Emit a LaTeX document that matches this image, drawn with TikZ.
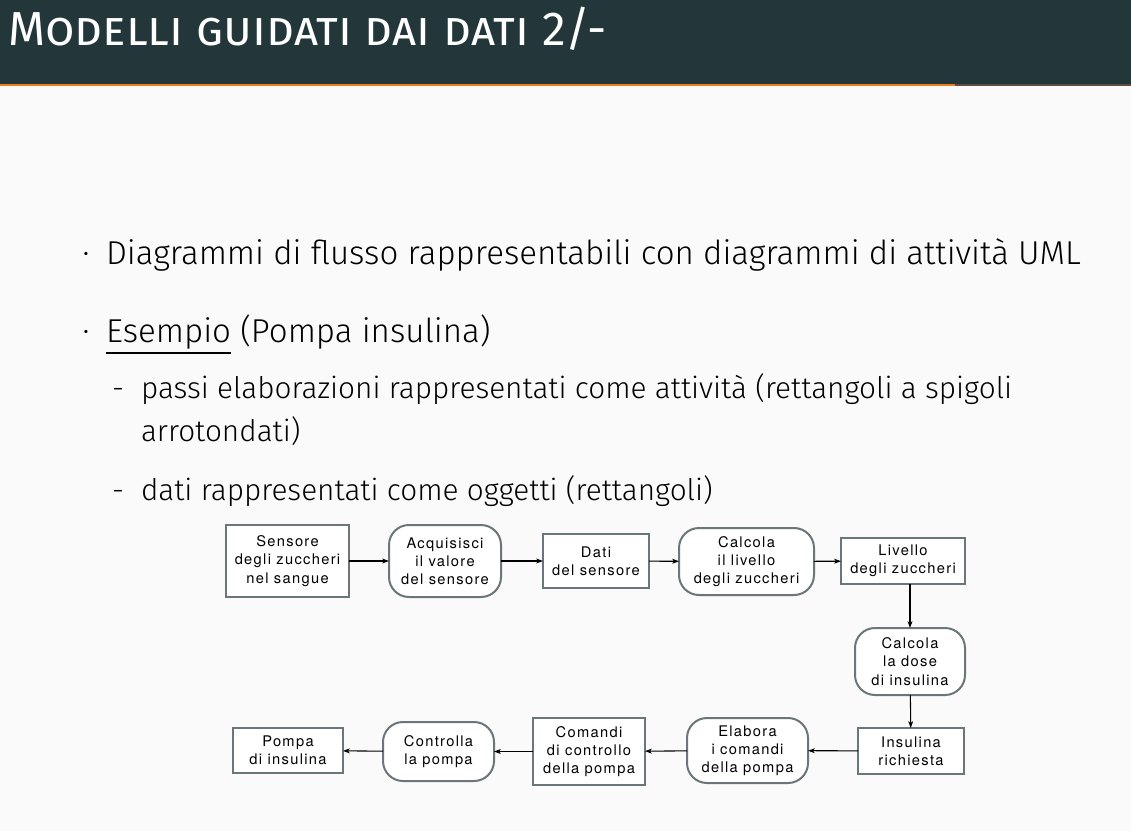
\documentclass[tikz,border=0pt]{standalone}
\usepackage{fontspec}
\setmainfont{Fira Sans}[UprightFont={* Light}]
\newfontfamily\titlefont{Fira Sans}
\newfontfamily\figfont{TeX Gyre Heros}[LetterSpace=9]
\usetikzlibrary{arrows.meta, positioning}
\definecolor{mDarkTeal}{HTML}{23373B}
\definecolor{mOrange}{HTML}{EB811B}
\definecolor{mBar}{HTML}{5E4C40}
\definecolor{mBg}{HTML}{FAFAFA}
\definecolor{boxgray}{HTML}{6A7677}

\begin{document}
\begin{tikzpicture}[
  x=0.75pt, y=-0.75pt,
  >={Stealth[length=5pt, width=3.6pt, inset=1.2pt]},
  every node/.style={inner sep=0pt, outer sep=0pt},
  voce/.style={anchor=base west, text=black, font=\fontsize{24.8}{30}\selectfont},
  sottovoce/.style={anchor=base west, text=black, font=\fontsize{22.3}{30}\selectfont},
  dato/.style={rectangle, draw=boxgray, line width=1.5pt, fill=white, align=center, font=\figfont\fontsize{11}{13.6}\selectfont},
  attivita/.style={dato, rounded corners=15pt},
  flusso/.style={->, line width=0.8pt}
]
\useasboundingbox (0,0) rectangle (1131,831);
\fill[mBg] (0,0) rectangle (1131,831);

% Header
\fill[mDarkTeal] (0,0) rectangle (1131,84);
\fill[mOrange] (0,84) rectangle (955,86);
\fill[mBar] (955,84) rectangle (1131,86);
\node[anchor=base west, text=white, font=\titlefont\fontsize{35.8}{40}\selectfont] (titolo) at (8,46) {\textsc{Modelli guidati dai dati 2/-}};

% Testo
\node[voce, anchor=base] (punto1) at (86,264) {·};
\node[voce] (voce1) at (106,264) {Diagrammi di flusso rappresentabili con diagrammi di attività UML};
\node[voce, anchor=base] (punto2) at (86,342) {·};
\node[voce] (esempio) at (106,342) {Esempio};
\node[voce] (pompatxt) at (esempio.base east) {\ (Pompa insulina)};
\draw[line width=0.9pt] ([yshift=-8.25pt]esempio.base west) -- ([yshift=-8.25pt]esempio.base east);

\node[sottovoce] (trattino1) at (112,398) {-};
\node[sottovoce] (sotto1) at (141,398) {passi elaborazioni rappresentati come attività (rettangoli a spigoli};
\node[sottovoce] (sotto1b) at (141,441) {arrotondati)};
\node[sottovoce] (trattino2) at (112,500) {-};
\node[sottovoce] (sotto2) at (141,500) {dati rappresentati come oggetti (rettangoli)};

% Diagramma - prima riga
\node[dato, minimum width=92.25pt, minimum height=54pt] (sens) at (287.5,561) {Sensore\\degli zuccheri\\nel sangue};
\node[attivita, minimum width=84pt, minimum height=54pt] (acq) at (445,561) {Acquisisci\\il valore\\del sensore};
\node[dato, minimum width=79.5pt, minimum height=40.5pt] (dati) at (596,561) {Dati\\del sensore};
\node[attivita, minimum width=101.25pt, minimum height=50.25pt] (calc) at (746.5,561.5) {Calcola\\il livello\\degli zuccheri};
\node[dato, minimum width=93pt, minimum height=34.5pt] (liv) at (903,561) {Livello\\degli zuccheri};

% Diagramma - colonna destra
\node[attivita, minimum width=82.5pt, minimum height=50.25pt] (dose) at (910,661.5) {Calcola\\la dose\\di insulina};

% Diagramma - ultima riga
\node[dato, minimum width=79.5pt, minimum height=34.5pt] (ins) at (911,751) {Insulina\\richiesta};
\node[attivita, minimum width=90.75pt, minimum height=48.75pt] (elab) at (747.5,750.5) {Elabora\\i comandi\\della pompa};
\node[dato, minimum width=84pt, minimum height=50.25pt] (com) at (589,751.5) {Comandi\\di controllo\\della pompa};
\node[attivita, minimum width=83.25pt, minimum height=44.25pt] (ctrl) at (438.5,751.5) {Controlla\\la pompa};
\node[dato, minimum width=82.5pt, minimum height=33.75pt] (pompa) at (288,750.5) {Pompa\\di insulina};

% Connessioni
\draw[flusso] (sens) -- (acq);
\draw[flusso] (acq) -- (dati);
\draw[flusso] (dati) -- (calc);
\draw[flusso] (calc) -- (liv);
\draw[flusso] (liv.south -| dose.north) -- (dose);
\draw[flusso] (dose) -- (ins);
\draw[flusso] (ins) -- (elab);
\draw[flusso] (elab) -- (com);
\draw[flusso] (com) -- (ctrl);
\draw[flusso] (ctrl) -- (pompa);
\end{tikzpicture}
\end{document}
